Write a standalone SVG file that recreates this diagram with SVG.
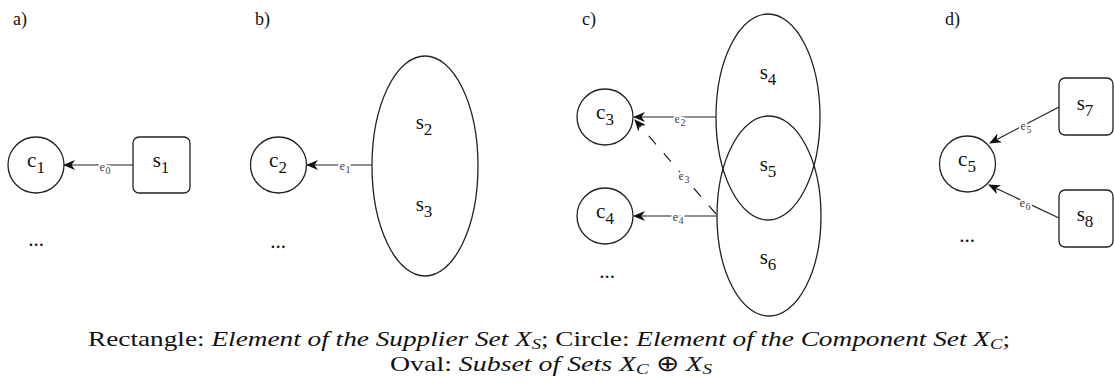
<svg xmlns="http://www.w3.org/2000/svg" width="1114" height="391" viewBox="0 0 1114 391">
<style>
.shape{fill:#fff;stroke:#222;stroke-width:1.3}
.edge{fill:none;stroke:#222;stroke-width:1.2}
.t{font-family:"Liberation Serif","Times New Roman",serif;fill:#111}
.node{font-size:21px;text-anchor:middle}
.sub{font-size:17px}
.el{font-size:13px;text-anchor:middle;stroke:#fff;stroke-width:4;paint-order:stroke;fill:#444}
.esub{font-size:10px}
.panel{font-size:18px}
.cap{font-size:22px;text-anchor:middle}
.capsub{font-size:15px}
</style>
<defs>
<marker id="arr" viewBox="0 0 12 10" refX="11" refY="5" markerWidth="12" markerHeight="10" markerUnits="userSpaceOnUse" orient="auto">
<path d="M0,0 L12,5 L0,10 L3.5,5 z" fill="#111"/>
</marker>
</defs>
<rect width="1114" height="391" fill="#fff"/>

<g id="panel-labels" class="t panel">
<text x="13" y="25">a)</text>
<text x="255" y="25">b)</text>
<text x="582" y="25">c)</text>
<text x="945" y="25">d)</text>
</g>

<g id="connectors">
<line class="edge" x1="133" y1="165" x2="64" y2="165" marker-end="url(#arr)"/>
<line class="edge" x1="372" y1="165" x2="307" y2="165" marker-end="url(#arr)"/>
<line class="edge" x1="716" y1="117" x2="634" y2="117" marker-end="url(#arr)"/>
<line class="edge" x1="716" y1="214" x2="635" y2="120" stroke-dasharray="11 12" marker-end="url(#arr)"/>
<line class="edge" x1="717" y1="216" x2="634" y2="216" marker-end="url(#arr)"/>
<line class="edge" x1="1059" y1="107" x2="990" y2="143" marker-end="url(#arr)"/>
<line class="edge" x1="1059" y1="218" x2="989" y2="185" marker-end="url(#arr)"/>
<g class="t el">
<text x="105" y="171">e<tspan class="esub" dy="3">0</tspan></text>
<text x="345" y="170">e<tspan class="esub" dy="3">1</tspan></text>
<text x="680" y="123">e<tspan class="esub" dy="3">2</tspan></text>
<text x="684" y="180">e<tspan class="esub" dy="3">3</tspan></text>
<text x="678" y="221">e<tspan class="esub" dy="3">4</tspan></text>
<text x="1026" y="130">e<tspan class="esub" dy="3">5</tspan></text>
<text x="1025" y="207">e<tspan class="esub" dy="3">6</tspan></text>
</g>
</g>

<g id="c1"><circle class="shape" cx="36" cy="165" r="28"/><text class="t node" x="36" y="167">c<tspan class="sub" dy="6">1</tspan></text></g>
<g id="s1"><rect class="shape" x="133" y="137" width="57" height="56" rx="6"/><text class="t node" x="161" y="167">s<tspan class="sub" dy="6">1</tspan></text></g>
<text class="t node" x="36" y="246">...</text>

<g id="c2"><circle class="shape" cx="278.5" cy="165" r="28"/><text class="t node" x="278" y="167">c<tspan class="sub" dy="6">2</tspan></text></g>
<g id="s2s3"><ellipse class="shape" cx="425" cy="166" rx="53" ry="110"/>
<text class="t node" x="424" y="129">s<tspan class="sub" dy="6">2</tspan></text>
<text class="t node" x="424" y="211">s<tspan class="sub" dy="6">3</tspan></text></g>
<text class="t node" x="278" y="248">...</text>

<g id="c3"><circle class="shape" cx="605" cy="117" r="28"/><text class="t node" x="605" y="119">c<tspan class="sub" dy="6">3</tspan></text></g>
<g id="c4"><circle class="shape" cx="605" cy="216" r="28"/><text class="t node" x="605" y="218">c<tspan class="sub" dy="6">4</tspan></text></g>
<text class="t node" x="607" y="278">...</text>
<g id="s6"><ellipse class="shape" cx="769" cy="216" rx="52" ry="100" style="fill:none"/></g>
<g id="s4"><ellipse class="shape" cx="768" cy="117" rx="52" ry="103" style="fill:none"/></g>
<g id="set-labels-c" class="t node">
<text x="768" y="79">s<tspan class="sub" dy="6">4</tspan></text>
<text x="768" y="171">s<tspan class="sub" dy="6">5</tspan></text>
<text x="768" y="264">s<tspan class="sub" dy="6">6</tspan></text>
</g>

<g id="c5"><circle class="shape" cx="967.5" cy="164" r="28"/><text class="t node" x="967" y="166">c<tspan class="sub" dy="6">5</tspan></text></g>
<g id="s7"><rect class="shape" x="1059" y="78" width="54" height="57" rx="6"/><text class="t node" x="1085" y="110">s<tspan class="sub" dy="6">7</tspan></text></g>
<g id="s8"><rect class="shape" x="1059" y="190" width="54" height="57" rx="6"/><text class="t node" x="1085" y="221">s<tspan class="sub" dy="6">8</tspan></text></g>
<text class="t node" x="967" y="242">...</text>

<g id="caption" class="t cap">
<text x="549" y="346" textLength="922" lengthAdjust="spacingAndGlyphs">Rectangle: <tspan font-style="italic">Element of the Supplier Set X<tspan class="capsub" dy="3">S</tspan></tspan><tspan dy="-3">; Circle: </tspan><tspan font-style="italic">Element of the Component Set X<tspan class="capsub" dy="3">C</tspan></tspan><tspan dy="-3">;</tspan></text>
<text x="551" y="371" textLength="322" lengthAdjust="spacingAndGlyphs">Oval: <tspan font-style="italic">Subset of Sets X<tspan class="capsub" dy="3">C</tspan></tspan><tspan dy="-3"> ⊕ </tspan><tspan font-style="italic">X<tspan class="capsub" dy="3">S</tspan></tspan></text>
</g>
</svg>
